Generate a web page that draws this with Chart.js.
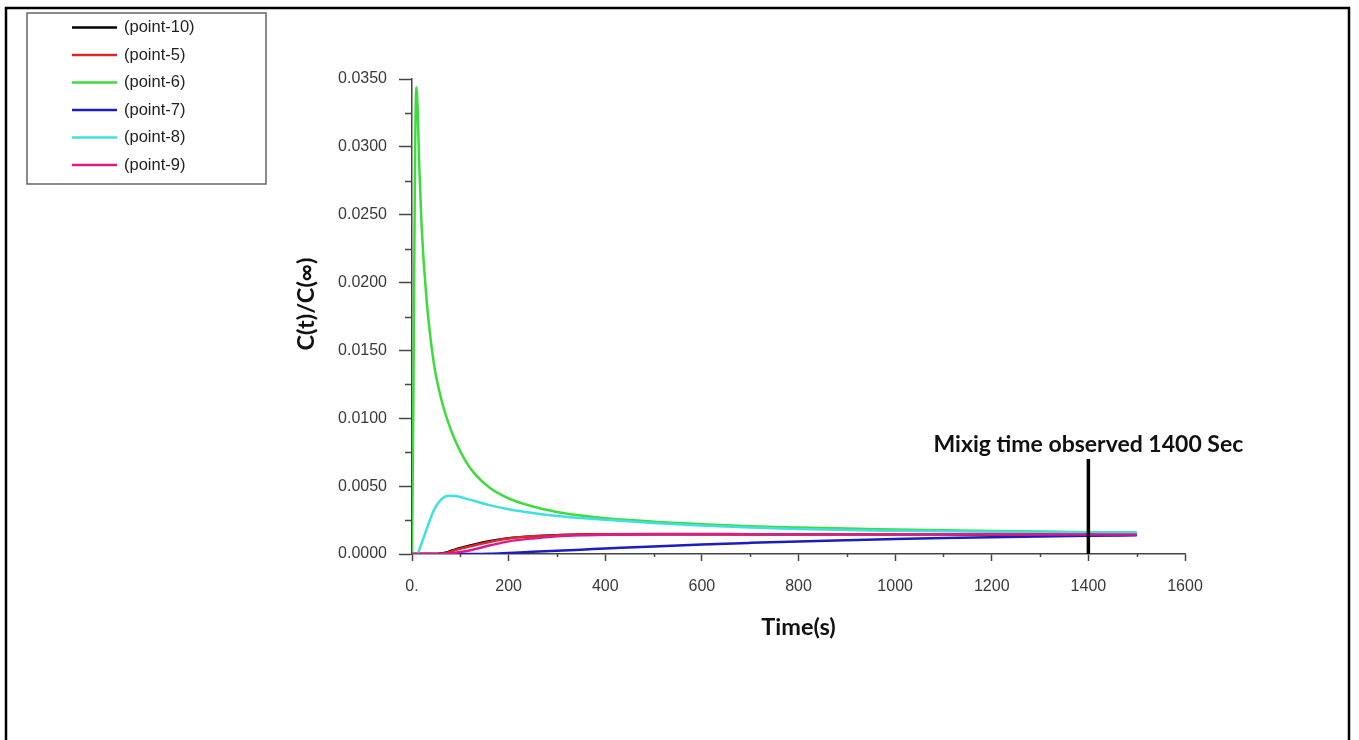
<!DOCTYPE html>
<html>
<head>
<meta charset="utf-8">
<title>Mixing time</title>
<script src="https://cdn.jsdelivr.net/npm/chart.js@4.4.1/dist/chart.umd.min.js"></script>
<style>
  html, body { margin: 0; padding: 0; background: #fff; }
  #wrap { width: 1359px; height: 740px; }
</style>
</head>
<body>
<div id="wrap"><canvas id="mixChart" width="1359" height="740"></canvas></div>
<script>
// sample times (s), shared by every monitor point
const times = [0, 3, 6, 9, 12, 15, 20, 30, 45, 60, 75, 90, 110, 130, 160, 200, 250, 300, 350, 400,
  500, 600, 700, 800, 900, 1000, 1100, 1200, 1300, 1400, 1500];

// C(t)/C(inf) at each monitor point
const point10 = [0, 0, 0, 0, 0, 0, 0, 0, 0, 0.00004, 0.00016, 0.00034, 0.00053, 0.00071, 0.00094, 0.00117, 0.00131, 0.00139, 0.00143, 0.00145,
  0.00146, 0.00146, 0.00146, 0.00146, 0.00145, 0.00145, 0.00145, 0.00144, 0.00144, 0.00143, 0.00143];
const point5 = [0, 0, 0, 0, 0, 0, 0, 0, 0, 0.00002, 0.00012, 0.0003, 0.00048, 0.00065, 0.00089, 0.00114, 0.0013, 0.00138, 0.00143, 0.00145,
  0.00147, 0.00147, 0.00146, 0.00146, 0.00146, 0.00145, 0.00145, 0.00144, 0.00144, 0.00143, 0.00143];
const point6 = [0, 0.012, 0.028, 0.0344, 0.0325, 0.0286, 0.0241, 0.0188, 0.0141, 0.0115, 0.0097, 0.0083, 0.0069, 0.0059, 0.0049, 0.0041, 0.0035, 0.0031, 0.00283, 0.00263,
  0.00238, 0.0022, 0.00205, 0.00195, 0.00187, 0.00181, 0.00175, 0.0017, 0.00165, 0.0016, 0.00158];
const point7 = [0, 0, 0, 0, 0, 0, 0, 0, 0, 0, 0, 0, 0, 0, 0.00002, 0.00008, 0.00016, 0.00024, 0.00032, 0.0004,
  0.00056, 0.0007, 0.00082, 0.00093, 0.00102, 0.0011, 0.00117, 0.00123, 0.00129, 0.00134, 0.00138];
const point8 = [0, 0, 0, 0, 0.00005, 0.0003, 0.0008, 0.0018, 0.0032, 0.004, 0.0043, 0.00428, 0.0041, 0.0039, 0.0036, 0.0033, 0.00302, 0.0028, 0.00265, 0.00252,
  0.00228, 0.0021, 0.00195, 0.00184, 0.00176, 0.00171, 0.00167, 0.00164, 0.00162, 0.0016, 0.00158];
const point9 = [0, 0, 0, 0, 0, 0, 0, 0, 0, 0, 0.00003, 0.0001, 0.0002, 0.00036, 0.00062, 0.00093, 0.00115, 0.0013, 0.00138, 0.00142,
  0.00146, 0.00146, 0.00146, 0.00146, 0.00145, 0.00145, 0.00145, 0.00145, 0.00144, 0.00144, 0.00144];

const seriesNames = ['(point-10)', '(point-5)', '(point-6)', '(point-7)', '(point-8)', '(point-9)'];
const seriesColors = ['#000000', '#d42a2a', '#3ddc3d', '#1c1cc0', '#3fe0e0', '#e0198c'];
const seriesValues = [point10, point5, point6, point7, point8, point9];

const xTicks = [0, 200, 400, 600, 800, 1000, 1200, 1400, 1600];
const mixingTime = 1400;
const mixingLabel = 'Mixig time observed 1400 Sec';

const axisColor = '#454545';
const tickFont = { family: '"Liberation Sans", Arial, sans-serif', size: 16 };

// frame, legend, titles, minor ticks and the mixing-time marker
const extras = {
  id: 'extras',
  afterDraw(chart) {
    const ctx = chart.ctx;
    const xs = chart.scales.x, ys = chart.scales.y;
    const area = chart.chartArea;
    ctx.save();

    // outer frame
    ctx.strokeStyle = '#000';
    ctx.lineWidth = 2.5;
    ctx.beginPath();
    ctx.moveTo(6, 740);
    ctx.lineTo(6, 8);
    ctx.lineTo(1349, 8);
    ctx.lineTo(1349, 740);
    ctx.stroke();

    // minor ticks
    ctx.strokeStyle = axisColor;
    ctx.lineWidth = 1.5;
    ctx.beginPath();
    for (let v = 0.0025; v < 0.035; v += 0.005) {
      const py = Math.round(ys.getPixelForValue(v)) + 0.5;
      ctx.moveTo(area.left - 7, py);
      ctx.lineTo(area.left, py);
    }
    for (let v = 100; v < 1600; v += 200) {
      const px = Math.round(xs.getPixelForValue(v)) + 0.5;
      ctx.moveTo(px, area.bottom);
      ctx.lineTo(px, area.bottom + 3);
    }
    ctx.stroke();

    // legend
    ctx.strokeStyle = '#666';
    ctx.lineWidth = 1.5;
    ctx.strokeRect(27, 13, 239, 171);
    ctx.font = '16.5px "Liberation Sans", Arial, sans-serif';
    ctx.textBaseline = 'middle';
    ctx.textAlign = 'left';
    chart.data.datasets.forEach((ds, i) => {
      const y = 27.5 + i * 27.5;
      ctx.strokeStyle = ds.borderColor;
      ctx.lineWidth = 2.5;
      ctx.beginPath();
      ctx.moveTo(72, y);
      ctx.lineTo(117, y);
      ctx.stroke();
      ctx.fillStyle = '#222';
      ctx.fillText(ds.label, 124, y);
    });

    // axis titles
    ctx.fillStyle = '#111';
    ctx.font = 'bold 23.5px Lato, "Open Sans", sans-serif';
    ctx.textAlign = 'center';
    ctx.textBaseline = 'middle';
    ctx.fillText('Time(s)', (area.left + area.right) / 2, 627);
    ctx.save();
    ctx.translate(306, 304);
    ctx.rotate(-Math.PI / 2);
    ctx.fillText('C(t)/C(\u221E)', 0, 0);
    ctx.restore();

    // mixing time marker
    const mx = xs.getPixelForValue(mixingTime);
    ctx.strokeStyle = '#000';
    ctx.lineWidth = 3.5;
    ctx.beginPath();
    ctx.moveTo(mx, 459);
    ctx.lineTo(mx, area.bottom);
    ctx.stroke();
    ctx.font = 'bold 23px Lato, "Open Sans", sans-serif';
    ctx.textBaseline = 'alphabetic';
    ctx.fillText(mixingLabel, mx, 452);

    ctx.restore();
  }
};

new Chart(document.getElementById('mixChart'), {
  type: 'line',
  data: {
    datasets: seriesNames.map((name, i) => ({
      label: name,
      data: times.map((t, k) => ({ x: t, y: seriesValues[i][k] })),
      borderColor: seriesColors[i],
      backgroundColor: seriesColors[i],
      borderWidth: 2.5,
      pointRadius: 0,
      cubicInterpolationMode: 'monotone',
      fill: false,
      order: seriesNames.length - i
    }))
  },
  options: {
    responsive: false,
    animation: false,
    layout: { padding: { left: 0, top: 79, right: 174, bottom: 0 } },
    plugins: {
      legend: { display: false },
      tooltip: { enabled: false }
    },
    scales: {
      x: {
        type: 'linear',
        min: 0,
        max: 1600,
        afterFit(scale) { scale.height = 186; },
        afterBuildTicks(scale) { scale.ticks = xTicks.map(v => ({ value: v })); },
        ticks: {
          font: tickFont,
          color: '#3a3a3a',
          padding: 16,
          maxRotation: 0,
          autoSkip: false,
          callback: v => (v === 0 ? '0.' : String(v))
        },
        grid: { drawOnChartArea: false, drawTicks: true, tickLength: 7, tickWidth: 1.5, tickColor: axisColor },
        border: { display: true, color: axisColor, width: 1.5 }
      },
      y: {
        min: 0,
        max: 0.035,
        afterFit(scale) { scale.width = 412; },
        ticks: {
          stepSize: 0.005,
          font: tickFont,
          color: '#3a3a3a',
          padding: 12,
          callback: v => Number(v).toFixed(4)
        },
        grid: { drawOnChartArea: false, drawTicks: true, tickLength: 13, tickWidth: 1.5, tickColor: axisColor },
        border: { display: true, color: axisColor, width: 1.5 }
      }
    }
  },
  plugins: [extras]
});
</script>
</body>
</html>
